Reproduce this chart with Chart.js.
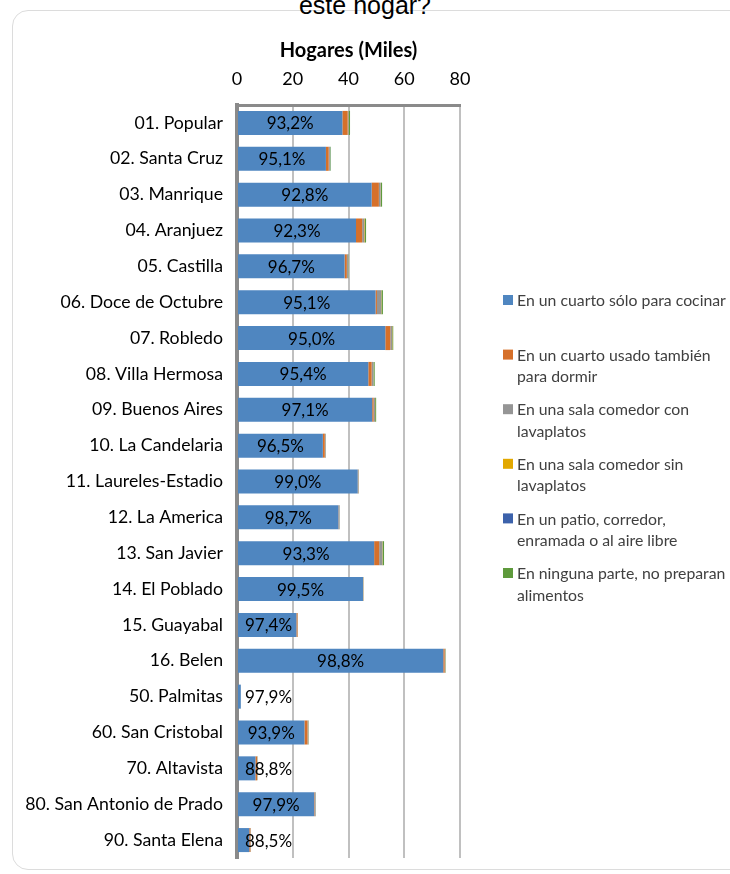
<!DOCTYPE html>
<html>
<head>
<meta charset="utf-8">
<script src="https://cdn.jsdelivr.net/npm/chart.js@4.4.1/dist/chart.umd.min.js"></script>
<style>
  body { margin: 0; background: #fff; }
  #wrap { position: relative; width: 730px; height: 874px; overflow: hidden; }
  #card { position: absolute; left: 12px; top: 10px; width: 760px; height: 860px;
          border: 1px solid #dcdcdc; border-radius: 16px; box-sizing: border-box; }
  #titulo { position: absolute; left: 0; width: 730px; top: -9px; text-align: center;
            font: 25px "Liberation Sans", Arial, sans-serif; color: #000; }
  canvas { position: absolute; left: 0; top: 0; }
</style>
</head>
<body>
<div id="wrap">
  <div id="card"></div>
  <div id="titulo">este hogar?</div>
  <canvas id="grafico" width="730" height="874"></canvas>
</div>
<script>
const categorias = [
  "01. Popular", "02. Santa Cruz", "03. Manrique", "04. Aranjuez", "05. Castilla",
  "06. Doce de Octubre", "07. Robledo", "08. Villa Hermosa", "09. Buenos Aires",
  "10. La Candelaria", "11. Laureles-Estadio", "12. La America", "13. San Javier",
  "14. El Poblado", "15. Guayabal", "16. Belen", "50. Palmitas", "60. San Cristobal",
  "70. Altavista", "80. San Antonio de Prado", "90. Santa Elena"
];

// hogares en miles, por sitio donde preparan los alimentos
const cuartoCocina = [37.8, 31.9, 48.3, 42.7, 38.6, 49.7, 53.2, 47.1, 48.5, 30.8, 43.3, 36.4, 49.2, 45.2, 21.3, 74.0, 1.37, 24.2, 6.6, 27.7, 4.4];
const cuartoDormir = [1.9, 1.0, 2.6, 2.2, 0.8, 0.5, 1.8, 1.2, 0.5, 0.7, 0.15, 0.15, 1.8, 0.05, 0.4, 0.5, 0.01, 1.1, 0.6, 0.2, 0.4];
const salaCon = [0.3, 0.4, 0.6, 0.7, 0.4, 1.5, 0.6, 0.6, 0.5, 0.3, 0.2, 0.25, 1.1, 0.1, 0.1, 0.2, 0.01, 0.3, 0.1, 0.3, 0.1];
const salaSin = [0.1, 0.05, 0.1, 0.2, 0.05, 0.1, 0.1, 0.05, 0.05, 0.05, 0.02, 0.02, 0.1, 0.02, 0.02, 0.05, 0, 0.05, 0.05, 0.02, 0.02];
const patio = [0.05, 0.05, 0.05, 0.1, 0.02, 0.05, 0.05, 0.05, 0.02, 0.02, 0.01, 0.01, 0.05, 0.01, 0.01, 0.02, 0, 0.02, 0.02, 0.01, 0.01];
const ninguna = [0.4, 0.2, 0.4, 0.4, 0.1, 0.5, 0.3, 0.4, 0.35, 0.05, 0.05, 0.05, 0.5, 0.05, 0.04, 0.13, 0.01, 0.1, 0.06, 0.07, 0.04];

// porcentaje del primer grupo, como aparece en las barras
const porcentajes = ["93,2%", "95,1%", "92,8%", "92,3%", "96,7%", "95,1%", "95,0%", "95,4%", "97,1%", "96,5%", "99,0%", "98,7%", "93,3%", "99,5%", "97,4%", "98,8%", "97,9%", "93,9%", "88,8%", "97,9%", "88,5%"];

const ticksX = [0, 20, 40, 60, 80];

const series = [
  { lineas: ["En un cuarto sólo para cocinar"], data: cuartoCocina, color: "#4f86c0" },
  { lineas: ["En un cuarto usado también", "para dormir"], data: cuartoDormir, color: "#d6702a" },
  { lineas: ["En una sala comedor con", "lavaplatos"], data: salaCon, color: "#959595" },
  { lineas: ["En una sala comedor sin", "lavaplatos"], data: salaSin, color: "#e2a800" },
  { lineas: ["En un patio, corredor,", "enramada o al aire libre"], data: patio, color: "#3c62ab" },
  { lineas: ["En ninguna parte, no preparan", "alimentos"], data: ninguna, color: "#5e9a3c" }
];

const etiquetasBarra = {
  id: "etiquetasBarra",
  afterDatasetsDraw(chart) {
    const ctx = chart.ctx;
    const meta = chart.getDatasetMeta(0);
    ctx.save();
    ctx.font = "17px Lato";
    ctx.fillStyle = "#000";
    ctx.textAlign = "center";
    ctx.textBaseline = "middle";
    meta.data.forEach((bar, i) => {
      const txt = porcentajes[i];
      const w = ctx.measureText(txt).width;
      let x = (bar.x + bar.base) / 2;
      const minX = chart.chartArea.left + 8 + w / 2;
      if (x < minX) x = minX;
      ctx.fillText(txt, x, bar.y + 1);
    });
    ctx.restore();
  }
};

const leyenda = {
  id: "leyenda",
  afterDraw(chart) {
    const ctx = chart.ctx;
    ctx.save();
    ctx.font = "15.8px Lato";
    ctx.textBaseline = "middle";
    ctx.textAlign = "left";
    series.forEach((s, i) => {
      const yc = 300 + i * 54.6;
      ctx.fillStyle = s.color;
      ctx.fillRect(503, yc - 5, 10, 10);
      ctx.fillStyle = "#404040";
      s.lineas.forEach((t, j) => ctx.fillText(t, 517, yc + j * 21.5 + 1));
    });
    ctx.restore();
  }
};

const ctx = document.getElementById("grafico").getContext("2d");
new Chart(ctx, {
  type: "bar",
  data: {
    labels: categorias,
    datasets: series.map(s => ({
      label: s.lineas.join(" "),
      data: s.data,
      backgroundColor: s.color,
      borderWidth: 0,
      categoryPercentage: 1,
      barPercentage: 0.67
    }))
  },
  options: {
    indexAxis: "y",
    responsive: false,
    animation: false,
    layout: { padding: { top: 0, left: 0, right: 270, bottom: 16 } },
    plugins: {
      legend: { display: false },
      tooltip: { enabled: false }
    },
    scales: {
      x: {
        position: "top",
        stacked: true,
        min: 0,
        max: 80,
        afterBuildTicks: (scale) => { scale.ticks = ticksX.map(v => ({ value: v })); },
        afterFit: (scale) => {
          scale.height = 105;
          scale.paddingLeft = 0;
          scale.paddingRight = 0;
        },
        grid: { color: "#c0c0c0", lineWidth: 2, drawTicks: false },
        border: { color: "#8a8a8a", width: 3 },
        ticks: { color: "#000", font: { family: "Lato", size: 18 }, padding: 15 },
        title: {
          display: true,
          text: "Hogares (Miles)",
          color: "#000",
          font: { family: "Lato", size: 20, weight: "bold" },
          padding: { top: 39, bottom: 0 }
        }
      },
      y: {
        stacked: true,
        afterFit: (scale) => {
          scale.width = 237;
          scale.paddingTop = 0;
          scale.paddingBottom = 0;
        },
        grid: { display: false, drawTicks: false },
        border: { color: "#8a8a8a", width: 4 },
        ticks: { color: "#000", font: { family: "Lato", size: 17.7 }, padding: 14 }
      }
    }
  },
  plugins: [etiquetasBarra, leyenda]
});
</script>
</body>
</html>
